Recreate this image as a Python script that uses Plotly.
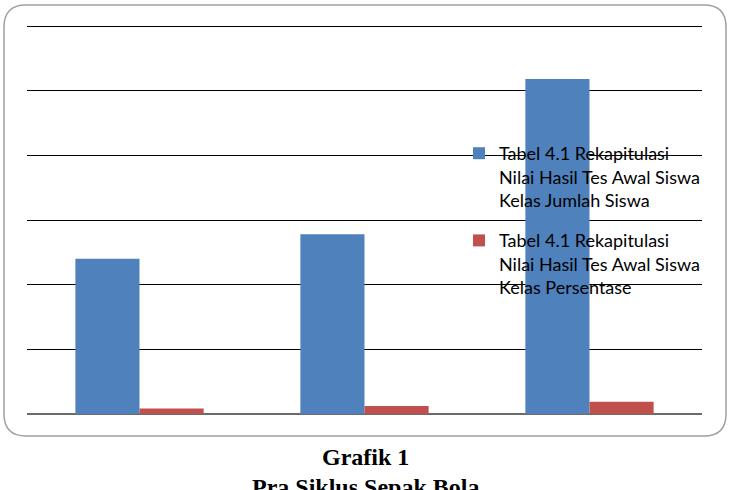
import plotly.graph_objects as go

categories = ["A", "B", "C"]
jumlah_siswa = [12, 13.9, 25.9]
persentase = [0.43, 0.62, 0.95]
legend_names = [
    "Tabel 4.1 Rekapitulasi<br>Nilai Hasil Tes Awal Siswa<br>Kelas Jumlah Siswa",
    "Tabel 4.1 Rekapitulasi<br>Nilai Hasil Tes Awal Siswa<br>Kelas Persentase",
]
title_lines = ["Grafik 1", "Pra Siklus Sepak Bola"]

W, H = 732, 490
ML, MR, MT, MB = 27, 30, 25, 76
pw, ph = W - ML - MR, H - MT - MB
YMAX = 30.08

fig = go.Figure()
fig.add_trace(go.Bar(x=categories, y=jumlah_siswa, name=legend_names[0],
                     marker=dict(color="#4F81BD", line=dict(width=0)), legendgroup="a"))
fig.add_trace(go.Bar(x=categories, y=persentase, name=legend_names[1],
                     marker=dict(color="#C0504D", line=dict(width=0)), legendgroup="b"))

def px2paper(x, y):
    return (x - ML) / pw, (H - MB - y) / ph

# rounded border
x0, y0, x1, y1, r = 4, 5, 726, 436, 22
def P(x, y):
    a, b = px2paper(x, y)
    return f"{a:.5f},{b:.5f}"
path = (f"M{P(x0+r,y0)} L{P(x1-r,y0)} Q{P(x1,y0)} {P(x1,y0+r)} "
        f"L{P(x1,y1-r)} Q{P(x1,y1)} {P(x1-r,y1)} L{P(x0+r,y1)} "
        f"Q{P(x0,y1)} {P(x0,y1-r)} L{P(x0,y0+r)} Q{P(x0,y0)} {P(x0+r,y0)} Z")
fig.add_shape(type="path", xref="paper", yref="paper", path=path,
              line=dict(color="#a0a0a0", width=1.5), layer="below")

fig.add_annotation(text="<b>" + title_lines[0] + "</b>", xref="paper", yref="paper",
                   x=px2paper(365, 0)[0], y=px2paper(0, 457)[1], showarrow=False,
                   font=dict(family="Liberation Serif", size=24, color="#000"),
                   xanchor="center", yanchor="middle")
fig.add_annotation(text="<b>" + title_lines[1] + "</b>", xref="paper", yref="paper",
                   x=px2paper(365, 0)[0], y=px2paper(0, 487)[1], showarrow=False,
                   font=dict(family="Liberation Serif", size=24, color="#000"),
                   xanchor="center", yanchor="middle")

fig.update_layout(
    width=W, height=H,
    margin=dict(l=ML, r=MR, t=MT, b=MB),
    paper_bgcolor="white", plot_bgcolor="white",
    barmode="group", bargap=0.43, bargroupgap=0,
    showlegend=True,
    legend=dict(x=px2paper(459, 0)[0], y=px2paper(0, 135)[1], xanchor="left", yanchor="top",
                bgcolor="rgba(0,0,0,0)", font=dict(family="Lato", size=18, color="#000"),
                valign="top", traceorder="grouped", tracegroupgap=14),
    xaxis=dict(showticklabels=False, showgrid=False, ticks="", showline=False, zeroline=False),
    yaxis=dict(range=[0, YMAX], dtick=5, showticklabels=False, ticks="",
               showgrid=True, gridcolor="#000000", gridwidth=1.4,
               zeroline=True, zerolinecolor="#6b6b6b", zerolinewidth=1.5, showline=False),
)

fig.write_html("out.html")
